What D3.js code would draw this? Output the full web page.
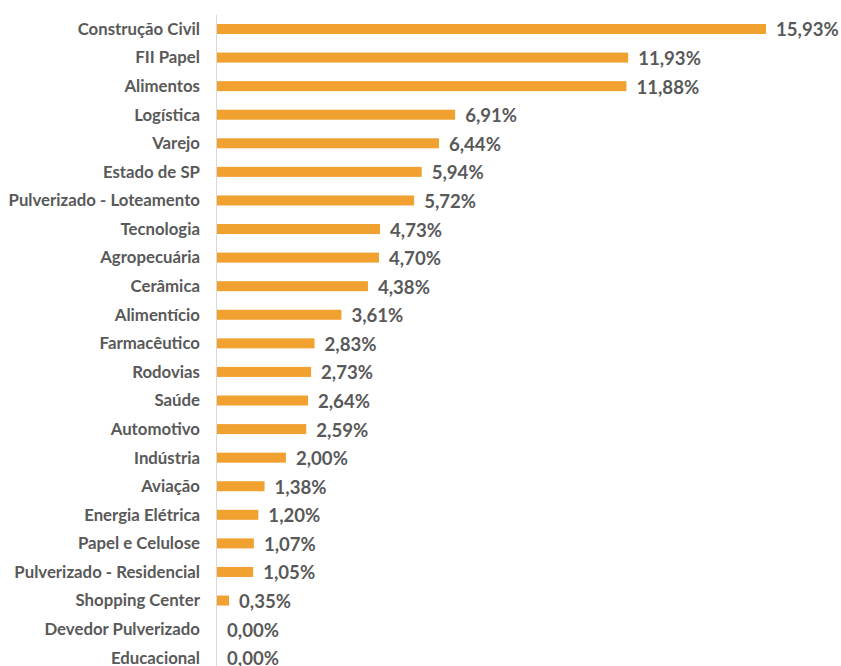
<!DOCTYPE html>
<html>
<head>
<meta charset="utf-8">
<script src="https://cdn.jsdelivr.net/npm/d3@7"></script>
<style>
  body { margin: 0; background: #fff; }
  svg { display: block; }
</style>
</head>
<body>
<div id="chart"></div>
<script>
// categories, top to bottom
const sectors = [
  "Construção Civil", "FII Papel", "Alimentos", "Logística", "Varejo",
  "Estado de SP", "Pulverizado - Loteamento", "Tecnologia", "Agropecuária",
  "Cerâmica", "Alimentício", "Farmacêutico", "Rodovias", "Saúde",
  "Automotivo", "Indústria", "Aviação", "Energia Elétrica",
  "Papel e Celulose", "Pulverizado - Residencial", "Shopping Center",
  "Devedor Pulverizado", "Educacional"
];
// share of portfolio, %
const shares = [
  15.93, 11.93, 11.88, 6.91, 6.44, 5.94, 5.72, 4.73, 4.70, 4.38, 3.61,
  2.83, 2.73, 2.64, 2.59, 2.00, 1.38, 1.20, 1.07, 1.05, 0.35, 0.00, 0.00
];

const width = 841, height = 666;
const margin = { top: 14.7, left: 217 };

const svg = d3.select("#chart")
  .append("svg")
  .attr("width", width)
  .attr("height", height);

// x scale: bar length in px
const x = d3.scaleLinear()
  .domain([0, 15.93])
  .range([margin.left, 766]);

const y = d3.scaleBand()
  .domain(sectors)
  .range([margin.top, 672])
  .paddingInner(0.65)
  .paddingOuter(0.325);

// vertical axis line
svg.append("line")
  .attr("x1", margin.left - 0.5)
  .attr("x2", margin.left - 0.5)
  .attr("y1", margin.top)
  .attr("y2", height)
  .attr("stroke", "#d9d9d9")
  .attr("stroke-width", 1);

// category labels
svg.append("g")
  .selectAll("text")
  .data(sectors)
  .join("text")
  .attr("x", 200)
  .attr("y", d => y(d) + y.bandwidth() / 2)
  .attr("dy", "0.35em")
  .attr("text-anchor", "end")
  .attr("font-family", "Lato, 'Liberation Sans', sans-serif")
  .attr("font-weight", "bold")
  .attr("font-size", "16.8px")
  .attr("fill", "#595959")
  .text(d => d);

// bars
svg.append("g")
  .selectAll("rect")
  .data(shares)
  .join("rect")
  .attr("x", margin.left)
  .attr("y", (d, i) => y(sectors[i]))
  .attr("width", d => x(d) - x(0))
  .attr("height", y.bandwidth())
  .attr("fill", "#f0a130");

// value labels
const fmt = d => d.toFixed(2).replace(".", ",") + "%";
svg.append("g")
  .selectAll("text")
  .data(shares)
  .join("text")
  .attr("x", d => x(d) + 10)
  .attr("y", (d, i) => y(sectors[i]) + y.bandwidth() / 2 + 1)
  .attr("dy", "0.35em")
  .attr("font-family", "Lato, 'Liberation Sans', sans-serif")
  .attr("font-weight", "bold")
  .attr("font-size", "18.6px")
  .attr("fill", "#595959")
  .text(fmt);
</script>
</body>
</html>
